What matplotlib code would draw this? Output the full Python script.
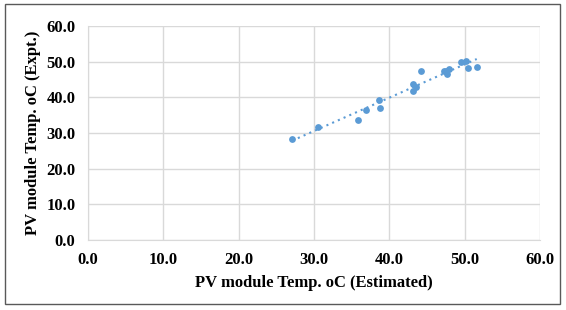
import matplotlib.pyplot as plt
import numpy as np
from matplotlib.patches import Rectangle

# PV module temperature: estimated vs measured (oC)
temp_estimated = [27.1, 30.5, 35.9, 36.9, 38.6, 38.8, 43.1, 43.2, 43.5, 44.2,
                  47.2, 47.5, 47.7, 47.9, 49.5, 50.2, 50.4, 51.6]
temp_expt = [28.4, 31.8, 33.6, 36.4, 39.3, 37.0, 41.9, 43.6, 43.0, 47.5,
             47.5, 47.3, 46.5, 47.9, 49.9, 50.3, 48.2, 48.4]
tick_values = [0, 10, 20, 30, 40, 50, 60]

plt.rcParams["font.family"] = ["Liberation Serif", "DejaVu Serif"]
plt.rcParams["font.weight"] = "bold"

fig = plt.figure(figsize=(5.66, 3.10), dpi=100)
ax = fig.add_axes([88 / 566, 1 - 240 / 310, (540 - 88) / 566, (240 - 26) / 310])

color = "#5B9BD5"
ax.scatter(temp_estimated, temp_expt, s=24, color=color, zorder=3, linewidths=0)

# linear trendline
coef = np.polyfit(temp_estimated, temp_expt, 1)
xs = np.array([min(temp_estimated), max(temp_estimated)])
ax.plot(xs, np.polyval(coef, xs), linestyle=(0, (1, 2)), color=color, linewidth=1.5, zorder=2)

ax.set_xlim(0, 60)
ax.set_ylim(0, 60)
ax.set_xticks(tick_values)
ax.set_yticks(tick_values)
ax.set_xticklabels([f"{v:.1f}" for v in tick_values], fontsize=12, fontweight="bold")
ax.set_yticklabels([f"{v:.1f}" for v in tick_values], fontsize=12, fontweight="bold")
ax.grid(True, color="#D9D9D9", linewidth=1)
ax.set_axisbelow(True)
for side in ["top", "right"]:
    ax.spines[side].set_visible(False)
ax.spines["left"].set_color("#D9D9D9")
ax.spines["bottom"].set_color("#D9D9D9")
ax.tick_params(length=0, pad=9)

ax.set_xlabel("PV module Temp. oC (Estimated)", fontsize=12, fontweight="bold", labelpad=5)
ax.set_ylabel("PV module Temp. oC (Expt.)", fontsize=12, fontweight="bold", labelpad=4)

# chart border
fig.patches.append(Rectangle((5 / 566, 6 / 310), 555 / 566, 300 / 310, transform=fig.transFigure,
                             fill=False, edgecolor="#595959", linewidth=1))

fig.savefig("out.png", dpi=100)
